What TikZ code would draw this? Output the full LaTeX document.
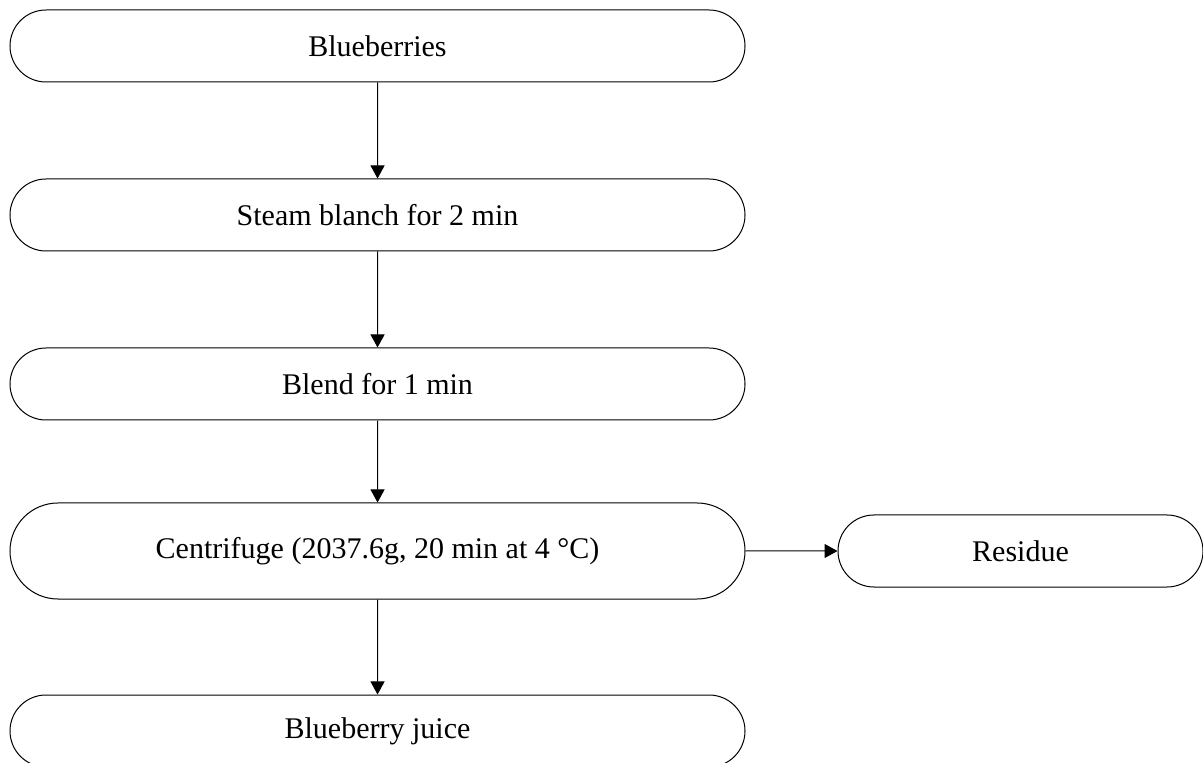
\documentclass[tikz,border=0pt]{standalone}
\usepackage{fontspec}
\setmainfont{Liberation Serif}
\usetikzlibrary{positioning,shapes.misc,arrows.meta}

\tikzset{
  stagebox/.style={rounded rectangle,draw,line width=0.5pt,inner sep=0pt,
    minimum width=367.5pt,minimum height=36pt,
    font=\fontsize{15pt}{18pt}\selectfont},
  flow/.style={-{Triangle[length=6.5pt,width=7pt]},line width=0.5pt}
}

\begin{document}
\begin{tikzpicture}
  \useasboundingbox (0,0) rectangle (601.5pt,-381.5pt);

  % Process steps
  \node[stagebox] (berries) at (188.75pt,-23pt) {Blueberries};
  \node[stagebox,below=48pt of berries] (blanch) {Steam blanch for 2 min};
  \node[stagebox,below=48pt of blanch] (blend) {Blend for 1 min};
  \node[stagebox,minimum height=48pt,below=41pt of blend] (centri) {Centrifuge (2037.6g, 20 min at 4 °C)};
  \node[stagebox,below=47.5pt of centri] (juice) {Blueberry juice};

  % Side output
  \node[stagebox,minimum width=182.5pt,right=46pt of centri] (residue) {Residue};

  % Arrows
  \draw[flow] (berries) -- (blanch);
  \draw[flow] (blanch) -- (blend);
  \draw[flow] (blend) -- (centri);
  \draw[flow] (centri) -- (juice);
  \draw[flow] (centri) -- (residue);
\end{tikzpicture}
\end{document}
